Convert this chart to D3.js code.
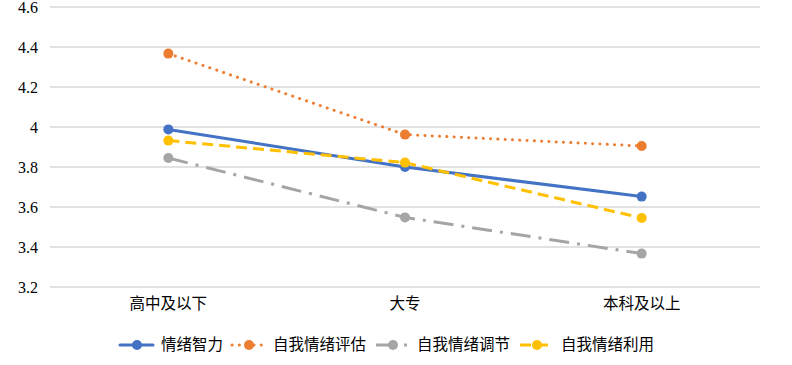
<!DOCTYPE html>
<html>
<head>
<meta charset="utf-8">
<script src="https://cdn.jsdelivr.net/npm/d3@7"></script>
<style>
  body { margin: 0; background: #fff; }
  svg { display: block; }
</style>
</head>
<body>
<svg width="792" height="365"></svg>
<script>
let categories = ["高中及以下", "大专", "本科及以上"];
let seriesNames = ["情绪智力", "自我情绪评估", "自我情绪调节", "自我情绪利用"];
let emotionalIntel = [3.988, 3.80, 3.652];
let selfAppraisal = [4.367, 3.962, 3.905];
let selfRegulation = [3.845, 3.548, 3.367];
let selfUse = [3.932, 3.822, 3.545];
let yTicks = [3.2, 3.4, 3.6, 3.8, 4, 4.2, 4.4, 4.6];

let styles = [
    {color: "#4472C4", dash: null, cap: "round"},
    {color: "#ED7D31", dash: "0.1 7.2", cap: "round"},
    {color: "#A5A5A5", dash: "20 8 3 8", cap: "butt"},
    {color: "#FFC000", dash: "11 6", cap: "butt"}
];
let allValues = [emotionalIntel, selfAppraisal, selfRegulation, selfUse];

let svg = d3.select("svg"),
    margin = {left: 50, right: 32, top: 7, bottom: 78},
    width = +svg.attr("width") - margin.left - margin.right,
    height = +svg.attr("height") - margin.top - margin.bottom,
    g = svg.append("g").attr("transform", "translate(" + margin.left + "," + margin.top + ")");

let x = d3.scaleBand().domain(categories).range([0, width]);
let y = d3.scaleLinear().domain([3.2, 4.6]).range([height, 0]);

// grid
g.selectAll(".grid")
    .data(yTicks)
    .enter().append("line")
    .attr("x1", 0).attr("x2", width)
    .attr("y1", d => y(d)).attr("y2", d => y(d))
    .attr("stroke", "#d9d9d9")
    .attr("stroke-width", 1.5);

// y labels
g.selectAll(".ylab")
    .data(yTicks)
    .enter().append("text")
    .attr("x", -12)
    .attr("y", d => y(d))
    .attr("dy", "0.35em")
    .attr("text-anchor", "end")
    .style("font-family", "'Liberation Serif', serif")
    .attr("font-size", 16)
    .attr("fill", "#000")
    .text(d => d);

// x labels
g.selectAll(".xlab")
    .data(categories)
    .enter().append("text")
    .attr("x", d => x(d) + x.bandwidth() / 2)
    .attr("y", height + 22)
    .attr("text-anchor", "middle")
    .style("font-family", "'Noto Sans CJK SC', sans-serif")
    .attr("font-size", 15.5)
    .attr("fill", "#000")
    .text(d => d);

let line = d3.line()
    .x((d, i) => x(categories[i]) + x.bandwidth() / 2)
    .y(d => y(d));

allValues.forEach(function(vals, k) {
    let s = styles[k];
    g.append("path")
        .datum(vals)
        .attr("fill", "none")
        .attr("stroke", s.color)
        .attr("stroke-width", 3)
        .attr("stroke-linecap", s.cap)
        .attr("stroke-dasharray", s.dash)
        .attr("d", line);
    g.selectAll(".dot" + k)
        .data(vals)
        .enter().append("circle")
        .attr("cx", (d, i) => x(categories[i]) + x.bandwidth() / 2)
        .attr("cy", d => y(d))
        .attr("r", 5)
        .attr("fill", s.color);
});

// legend
let legendX = [120, 232, 376, 520];
let legend = svg.append("g").attr("transform", "translate(0,345)");
seriesNames.forEach(function(name, k) {
    let s = styles[k];
    let item = legend.append("g").attr("transform", "translate(" + legendX[k] + ",0)");
    item.append("line")
        .attr("x1", 0).attr("x2", 33)
        .attr("y1", 0).attr("y2", 0)
        .attr("stroke", s.color)
        .attr("stroke-width", 3)
        .attr("stroke-linecap", s.cap)
        .attr("stroke-dasharray", s.dash);
    item.append("circle")
        .attr("cx", 17).attr("cy", 0).attr("r", 5)
        .attr("fill", s.color);
    item.append("text")
        .attr("x", 41)
        .attr("dy", "0.35em")
        .style("font-family", "'Noto Sans CJK SC', sans-serif")
        .attr("font-size", 15.5)
        .attr("fill", "#000")
        .text(name);
});
</script>
</body>
</html>
